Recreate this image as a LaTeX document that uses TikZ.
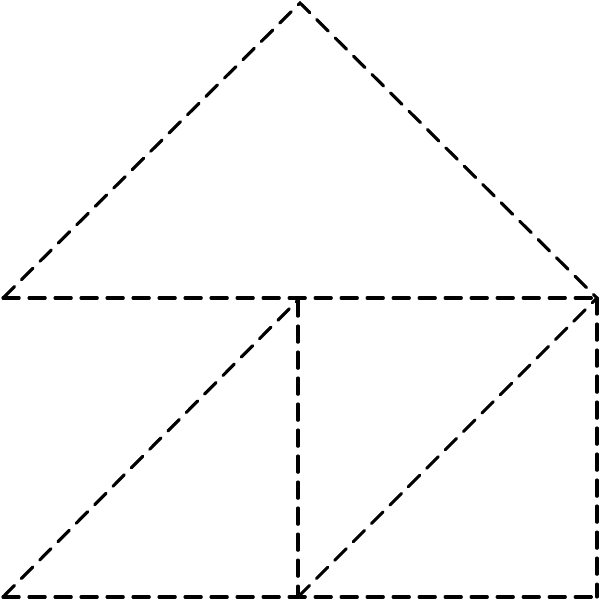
\documentclass[tikz,border=0pt]{standalone}
\usetikzlibrary{calc}
\tikzset{
    cut/.style={line width=0.9pt,dash pattern=on 4.6pt off 2.8pt,line cap=round}
}
\begin{document}
\begin{tikzpicture}
    \useasboundingbox (0,0) rectangle (6,6);

    \coordinate (apex) at (3,5.97);
    \coordinate (left) at (0.03,3.02);
    \coordinate (right) at (5.97,3.02);
    \coordinate (mid) at (2.98,3.0);
    \coordinate (botleft) at (0.03,0.03);
    \coordinate (botmid) at (2.98,0.03);
    \coordinate (botright) at (5.97,0.03);

    % roof
    \draw[cut] (left) -- (apex) -- (right);
    \draw[cut] (left) -- (right);

    % walls
    \draw[cut] (mid) -- (botmid);
    \draw[cut] (right) -- (botright);
    \draw[cut] (botleft) -- (botright);

    % diagonals
    \draw[cut] (botleft) -- (mid);
    \draw[cut] (botmid) -- (right);
\end{tikzpicture}
\end{document}
